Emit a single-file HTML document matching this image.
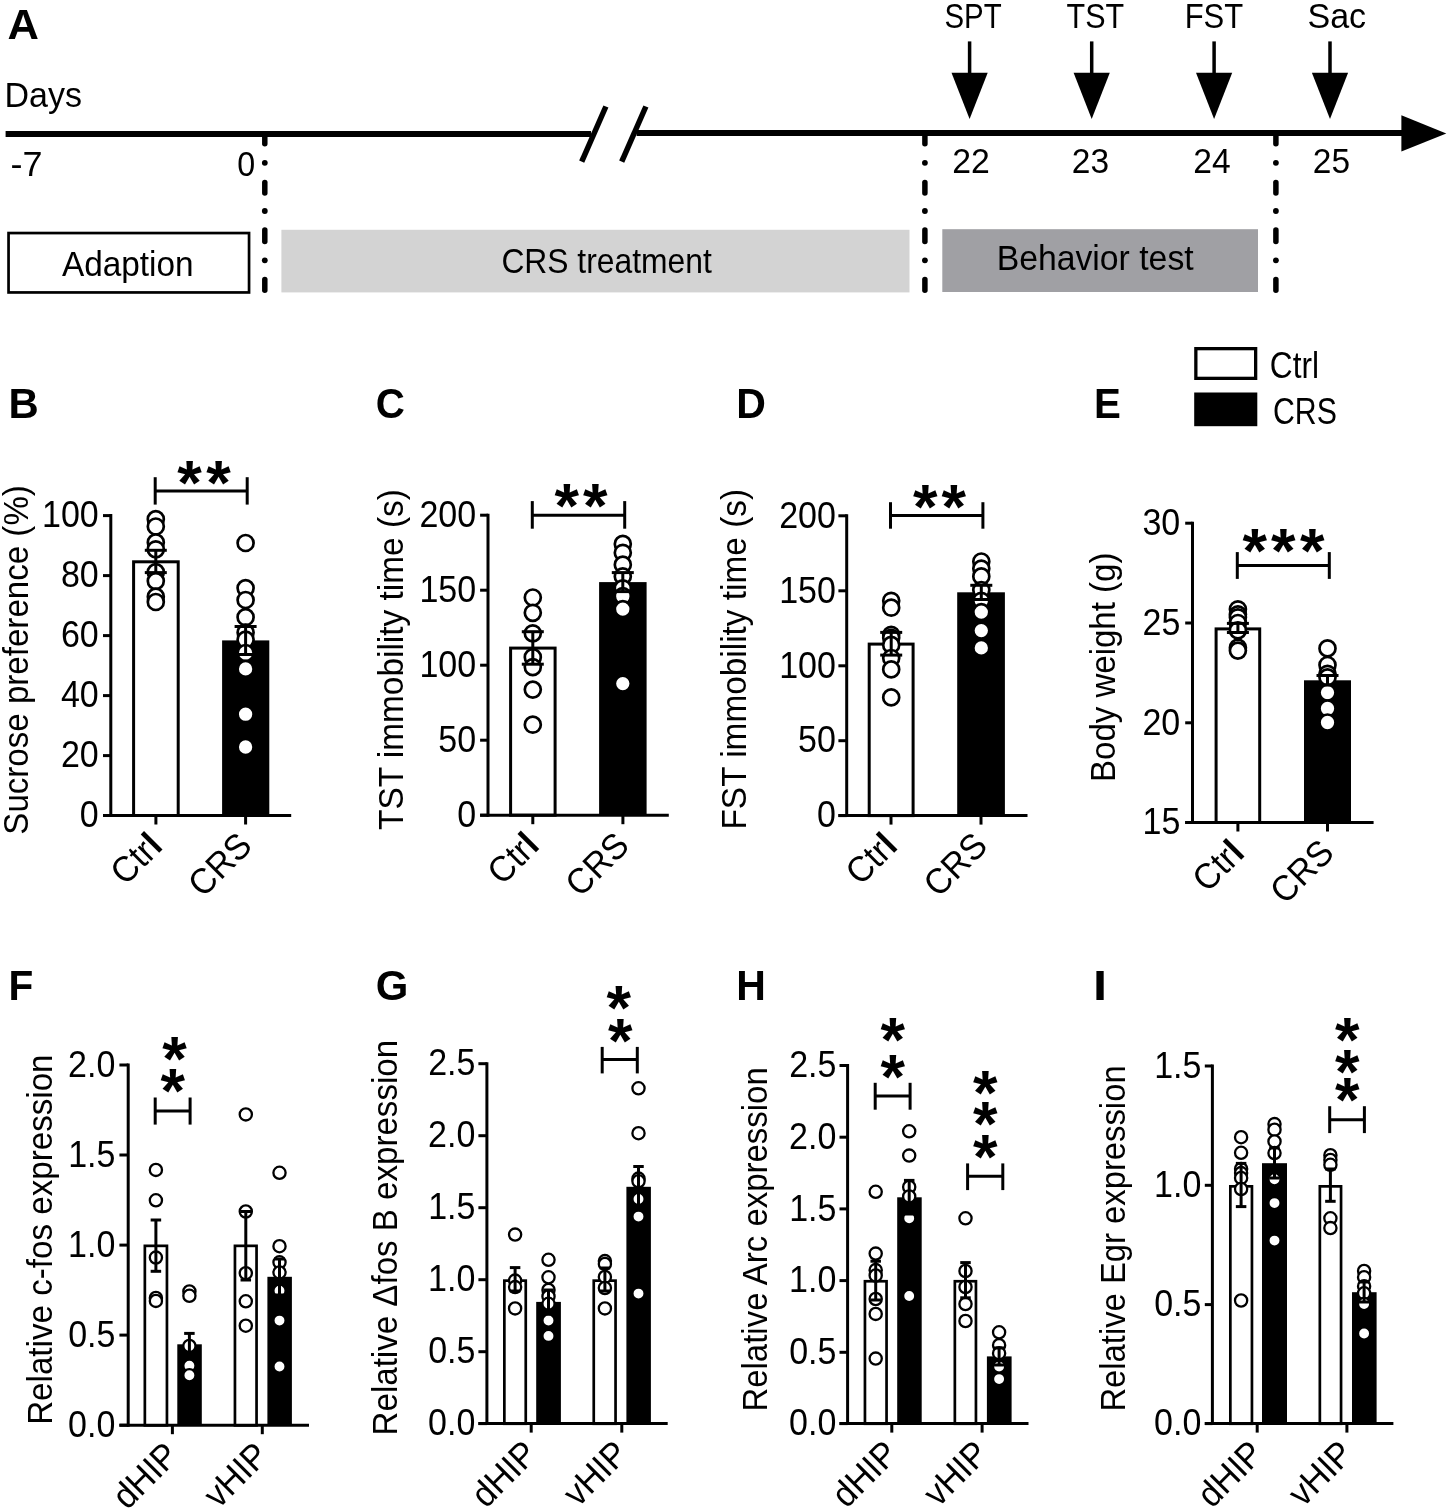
<!DOCTYPE html><html><head><meta charset="utf-8"><style>html,body{margin:0;padding:0;background:#fff;overflow:hidden}svg{display:block;will-change:transform} text{font-family:"Liberation Sans",sans-serif}</style></head><body>
<svg width="1450" height="1510" viewBox="0 0 1450 1510">
<rect width="1450" height="1510" fill="#fff"/>
<text x="7.62" y="38.90" font-size="43" font-weight="bold" fill="#000" textLength="31.43" lengthAdjust="spacingAndGlyphs">A</text>
<text x="4.41" y="106.50" font-size="35" fill="#000" textLength="77.52" lengthAdjust="spacingAndGlyphs">Days</text>
<line x1="5.60" y1="134.00" x2="591.00" y2="134.00" stroke="#000" stroke-width="6" stroke-linecap="butt"/>
<line x1="636.60" y1="133.00" x2="1405.00" y2="133.00" stroke="#000" stroke-width="6" stroke-linecap="butt"/>
<line x1="581.70" y1="161.70" x2="605.90" y2="106.50" stroke="#000" stroke-width="5.5" stroke-linecap="butt"/>
<line x1="621.70" y1="161.70" x2="645.90" y2="106.50" stroke="#000" stroke-width="5.5" stroke-linecap="butt"/>
<polygon points="1401.4,115.2 1446.3,133.5 1401.4,151.5" fill="#000"/>
<line x1="264.80" y1="133.80" x2="264.80" y2="143.80" stroke="#000" stroke-width="5.5" stroke-linecap="round"/>
<line x1="264.80" y1="182.50" x2="264.80" y2="193.00" stroke="#000" stroke-width="5.5" stroke-linecap="round"/>
<line x1="264.80" y1="230.10" x2="264.80" y2="241.50" stroke="#000" stroke-width="5.5" stroke-linecap="round"/>
<line x1="264.80" y1="279.50" x2="264.80" y2="290.30" stroke="#000" stroke-width="5.5" stroke-linecap="round"/>
<circle cx="264.80" cy="162.8" r="2.9" fill="#000"/>
<circle cx="264.80" cy="211" r="2.9" fill="#000"/>
<circle cx="264.80" cy="260.3" r="2.9" fill="#000"/>
<line x1="924.90" y1="133.80" x2="924.90" y2="143.80" stroke="#000" stroke-width="5.5" stroke-linecap="round"/>
<line x1="924.90" y1="182.50" x2="924.90" y2="193.00" stroke="#000" stroke-width="5.5" stroke-linecap="round"/>
<line x1="924.90" y1="230.10" x2="924.90" y2="241.50" stroke="#000" stroke-width="5.5" stroke-linecap="round"/>
<line x1="924.90" y1="279.50" x2="924.90" y2="290.30" stroke="#000" stroke-width="5.5" stroke-linecap="round"/>
<circle cx="924.90" cy="162.8" r="2.9" fill="#000"/>
<circle cx="924.90" cy="211" r="2.9" fill="#000"/>
<circle cx="924.90" cy="260.3" r="2.9" fill="#000"/>
<line x1="1275.90" y1="133.80" x2="1275.90" y2="143.80" stroke="#000" stroke-width="5.5" stroke-linecap="round"/>
<line x1="1275.90" y1="182.50" x2="1275.90" y2="193.00" stroke="#000" stroke-width="5.5" stroke-linecap="round"/>
<line x1="1275.90" y1="230.10" x2="1275.90" y2="241.50" stroke="#000" stroke-width="5.5" stroke-linecap="round"/>
<line x1="1275.90" y1="279.50" x2="1275.90" y2="290.30" stroke="#000" stroke-width="5.5" stroke-linecap="round"/>
<circle cx="1275.90" cy="162.8" r="2.9" fill="#000"/>
<circle cx="1275.90" cy="211" r="2.9" fill="#000"/>
<circle cx="1275.90" cy="260.3" r="2.9" fill="#000"/>
<text x="10.60" y="175.80" font-size="34.5" fill="#000" textLength="32.01" lengthAdjust="spacingAndGlyphs">-7</text>
<text x="237.34" y="175.80" font-size="34.5" fill="#000" textLength="17.92" lengthAdjust="spacingAndGlyphs">0</text>
<text x="952.30" y="173.40" font-size="34.8" fill="#000" textLength="37.60" lengthAdjust="spacingAndGlyphs">22</text>
<text x="1071.82" y="173.40" font-size="34.8" fill="#000" textLength="37.26" lengthAdjust="spacingAndGlyphs">23</text>
<text x="1193.31" y="173.40" font-size="34.8" fill="#000" textLength="37.37" lengthAdjust="spacingAndGlyphs">24</text>
<text x="1312.82" y="173.40" font-size="34.8" fill="#000" textLength="37.19" lengthAdjust="spacingAndGlyphs">25</text>
<text x="944.46" y="27.50" font-size="35" fill="#000" textLength="57.21" lengthAdjust="spacingAndGlyphs">SPT</text>
<text x="1066.62" y="27.50" font-size="35" fill="#000" textLength="57.58" lengthAdjust="spacingAndGlyphs">TST</text>
<text x="1184.66" y="27.50" font-size="35" fill="#000" textLength="58.55" lengthAdjust="spacingAndGlyphs">FST</text>
<text x="1307.45" y="27.50" font-size="35" fill="#000" textLength="58.64" lengthAdjust="spacingAndGlyphs">Sac</text>
<line x1="969.60" y1="41.40" x2="969.60" y2="75.00" stroke="#000" stroke-width="3.5" stroke-linecap="butt"/>
<polygon points="951.50,72.8 987.70,72.8 969.60,119" fill="#000"/>
<line x1="1091.70" y1="41.40" x2="1091.70" y2="75.00" stroke="#000" stroke-width="3.5" stroke-linecap="butt"/>
<polygon points="1073.60,72.8 1109.80,72.8 1091.70,119" fill="#000"/>
<line x1="1214.10" y1="41.40" x2="1214.10" y2="75.00" stroke="#000" stroke-width="3.5" stroke-linecap="butt"/>
<polygon points="1196.00,72.8 1232.20,72.8 1214.10,119" fill="#000"/>
<line x1="1330.00" y1="41.40" x2="1330.00" y2="75.00" stroke="#000" stroke-width="3.5" stroke-linecap="butt"/>
<polygon points="1311.90,72.8 1348.10,72.8 1330.00,119" fill="#000"/>
<rect x="8.55" y="233.05" width="240.50" height="59.40" fill="#fff" stroke="#000" stroke-width="2.7"/>
<text x="61.93" y="275.60" font-size="35" fill="#000" textLength="131.63" lengthAdjust="spacingAndGlyphs">Adaption</text>
<rect x="281.40" y="229.80" width="628.10" height="62.60" fill="#d3d3d3"/>
<text x="501.38" y="272.80" font-size="35" fill="#000" textLength="210.35" lengthAdjust="spacingAndGlyphs">CRS treatment</text>
<rect x="942.30" y="229.20" width="315.70" height="62.80" fill="#a0a0a4"/>
<text x="996.63" y="269.70" font-size="35.6" fill="#000" textLength="197.02" lengthAdjust="spacingAndGlyphs">Behavior test</text>
<rect x="133.60" y="561.80" width="44.60" height="253.70" fill="#fff" stroke="#000" stroke-width="3"/>
<rect x="222.10" y="640.40" width="47.20" height="175.10" fill="#000"/>
<circle cx="155.80" cy="519.20" r="8.00" fill="#fff" stroke="#000" stroke-width="2.7"/>
<circle cx="155.80" cy="526.50" r="8.00" fill="#fff" stroke="#000" stroke-width="2.7"/>
<circle cx="155.80" cy="542.40" r="8.00" fill="#fff" stroke="#000" stroke-width="2.7"/>
<circle cx="155.80" cy="549.30" r="8.00" fill="#fff" stroke="#000" stroke-width="2.7"/>
<circle cx="155.80" cy="572.20" r="8.00" fill="#fff" stroke="#000" stroke-width="2.7"/>
<circle cx="155.80" cy="581.10" r="8.00" fill="#fff" stroke="#000" stroke-width="2.7"/>
<circle cx="155.80" cy="596.70" r="8.00" fill="#fff" stroke="#000" stroke-width="2.7"/>
<circle cx="155.80" cy="602.00" r="8.00" fill="#fff" stroke="#000" stroke-width="2.7"/>
<circle cx="245.60" cy="543.00" r="8.00" fill="#fff" stroke="#000" stroke-width="2.7"/>
<circle cx="245.60" cy="588.10" r="8.00" fill="#fff" stroke="#000" stroke-width="2.7"/>
<circle cx="245.60" cy="600.00" r="8.00" fill="#fff" stroke="#000" stroke-width="2.7"/>
<circle cx="245.60" cy="617.20" r="8.00" fill="#fff" stroke="#000" stroke-width="2.7"/>
<circle cx="245.60" cy="632.50" r="8.00" fill="#fff" stroke="#000" stroke-width="2.7"/>
<circle cx="245.60" cy="639.70" r="8.00" fill="#fff" stroke="#000" stroke-width="2.7"/>
<circle cx="245.60" cy="653.00" r="8.00" fill="#fff" stroke="#000" stroke-width="2.7"/>
<circle cx="245.60" cy="668.90" r="8.00" fill="#fff" stroke="#000" stroke-width="2.7"/>
<circle cx="245.60" cy="714.20" r="8.00" fill="#fff" stroke="#000" stroke-width="2.7"/>
<circle cx="245.60" cy="747.00" r="8.00" fill="#fff" stroke="#000" stroke-width="2.7"/>
<line x1="155.80" y1="550.30" x2="155.80" y2="572.60" stroke="#000" stroke-width="3" stroke-linecap="butt"/>
<line x1="144.80" y1="550.30" x2="166.80" y2="550.30" stroke="#000" stroke-width="3" stroke-linecap="butt"/>
<line x1="144.80" y1="572.60" x2="166.80" y2="572.60" stroke="#000" stroke-width="3" stroke-linecap="butt"/>
<line x1="245.60" y1="626.50" x2="245.60" y2="654.50" stroke="#000" stroke-width="3" stroke-linecap="butt"/>
<line x1="234.60" y1="626.50" x2="256.60" y2="626.50" stroke="#000" stroke-width="3" stroke-linecap="butt"/>
<line x1="234.60" y1="654.50" x2="256.60" y2="654.50" stroke="#000" stroke-width="3" stroke-linecap="butt"/>
<line x1="110.80" y1="514.10" x2="110.80" y2="817.00" stroke="#000" stroke-width="3" stroke-linecap="butt"/>
<line x1="103.00" y1="815.50" x2="291.20" y2="815.50" stroke="#000" stroke-width="3" stroke-linecap="butt"/>
<line x1="103.00" y1="515.60" x2="110.80" y2="515.60" stroke="#000" stroke-width="3" stroke-linecap="butt"/>
<text x="42.00" y="527.30" font-size="36.4" fill="#000" textLength="56.73" lengthAdjust="spacingAndGlyphs">100</text>
<line x1="103.00" y1="575.60" x2="110.80" y2="575.60" stroke="#000" stroke-width="3" stroke-linecap="butt"/>
<text x="60.91" y="587.30" font-size="36.4" fill="#000" textLength="37.82" lengthAdjust="spacingAndGlyphs">80</text>
<line x1="103.00" y1="635.60" x2="110.80" y2="635.60" stroke="#000" stroke-width="3" stroke-linecap="butt"/>
<text x="60.91" y="647.30" font-size="36.4" fill="#000" textLength="37.82" lengthAdjust="spacingAndGlyphs">60</text>
<line x1="103.00" y1="695.60" x2="110.80" y2="695.60" stroke="#000" stroke-width="3" stroke-linecap="butt"/>
<text x="60.91" y="707.30" font-size="36.4" fill="#000" textLength="37.82" lengthAdjust="spacingAndGlyphs">40</text>
<line x1="103.00" y1="755.60" x2="110.80" y2="755.60" stroke="#000" stroke-width="3" stroke-linecap="butt"/>
<text x="60.91" y="767.30" font-size="36.4" fill="#000" textLength="37.82" lengthAdjust="spacingAndGlyphs">20</text>
<line x1="103.00" y1="815.50" x2="110.80" y2="815.50" stroke="#000" stroke-width="3" stroke-linecap="butt"/>
<text x="79.82" y="827.20" font-size="36.4" fill="#000" textLength="18.91" lengthAdjust="spacingAndGlyphs">0</text>
<line x1="155.90" y1="815.50" x2="155.90" y2="824.50" stroke="#000" stroke-width="3" stroke-linecap="butt"/>
<line x1="245.60" y1="815.50" x2="245.60" y2="824.50" stroke="#000" stroke-width="3" stroke-linecap="butt"/>
<line x1="155.20" y1="491.00" x2="247.20" y2="491.00" stroke="#000" stroke-width="3" stroke-linecap="butt"/>
<line x1="155.20" y1="477.20" x2="155.20" y2="504.60" stroke="#000" stroke-width="3" stroke-linecap="butt"/>
<line x1="247.20" y1="477.20" x2="247.20" y2="504.60" stroke="#000" stroke-width="3" stroke-linecap="butt"/>
<text x="177.18" y="503.53" font-size="63" font-weight="bold">*</text>
<text x="206.18" y="503.53" font-size="63" font-weight="bold">*</text>
<text x="8.40" y="417.80" font-size="43" font-weight="bold" fill="#000" textLength="30.20" lengthAdjust="spacingAndGlyphs">B</text>
<text transform="translate(28.20,833.20) rotate(-90)" x="-1.50" y="0" font-size="35.2" textLength="349.56" lengthAdjust="spacingAndGlyphs">Sucrose preference (%)</text>
<text transform="translate(164.10,847.70) rotate(-45)" x="0" y="0" font-size="36" text-anchor="end" textLength="54.77" lengthAdjust="spacingAndGlyphs">Ctr<tspan font-weight="bold">l</tspan></text>
<text transform="translate(253.80,847.70) rotate(-45)" x="0" y="0" font-size="36" text-anchor="end" textLength="71.79" lengthAdjust="spacingAndGlyphs">CRS</text>
<rect x="510.60" y="648.10" width="44.50" height="167.10" fill="#fff" stroke="#000" stroke-width="3"/>
<rect x="599.10" y="582.10" width="47.50" height="233.10" fill="#000"/>
<circle cx="532.80" cy="597.50" r="8.00" fill="#fff" stroke="#000" stroke-width="2.7"/>
<circle cx="532.80" cy="612.80" r="8.00" fill="#fff" stroke="#000" stroke-width="2.7"/>
<circle cx="532.80" cy="633.30" r="8.00" fill="#fff" stroke="#000" stroke-width="2.7"/>
<circle cx="532.80" cy="657.20" r="8.00" fill="#fff" stroke="#000" stroke-width="2.7"/>
<circle cx="532.80" cy="667.10" r="8.00" fill="#fff" stroke="#000" stroke-width="2.7"/>
<circle cx="532.80" cy="689.60" r="8.00" fill="#fff" stroke="#000" stroke-width="2.7"/>
<circle cx="532.80" cy="724.70" r="8.00" fill="#fff" stroke="#000" stroke-width="2.7"/>
<circle cx="622.80" cy="543.90" r="8.00" fill="#fff" stroke="#000" stroke-width="2.7"/>
<circle cx="622.80" cy="552.80" r="8.00" fill="#fff" stroke="#000" stroke-width="2.7"/>
<circle cx="622.80" cy="564.70" r="8.00" fill="#fff" stroke="#000" stroke-width="2.7"/>
<circle cx="622.80" cy="576.40" r="8.00" fill="#fff" stroke="#000" stroke-width="2.7"/>
<circle cx="622.80" cy="588.30" r="8.00" fill="#fff" stroke="#000" stroke-width="2.7"/>
<circle cx="622.80" cy="596.20" r="8.00" fill="#fff" stroke="#000" stroke-width="2.7"/>
<circle cx="622.80" cy="609.10" r="8.00" fill="#fff" stroke="#000" stroke-width="2.7"/>
<circle cx="622.80" cy="683.60" r="8.00" fill="#fff" stroke="#000" stroke-width="2.7"/>
<line x1="532.80" y1="631.70" x2="532.80" y2="664.20" stroke="#000" stroke-width="3" stroke-linecap="butt"/>
<line x1="521.80" y1="631.70" x2="543.80" y2="631.70" stroke="#000" stroke-width="3" stroke-linecap="butt"/>
<line x1="521.80" y1="664.20" x2="543.80" y2="664.20" stroke="#000" stroke-width="3" stroke-linecap="butt"/>
<line x1="622.80" y1="572.60" x2="622.80" y2="591.60" stroke="#000" stroke-width="3" stroke-linecap="butt"/>
<line x1="611.80" y1="572.60" x2="633.80" y2="572.60" stroke="#000" stroke-width="3" stroke-linecap="butt"/>
<line x1="611.80" y1="591.60" x2="633.80" y2="591.60" stroke="#000" stroke-width="3" stroke-linecap="butt"/>
<line x1="488.00" y1="513.70" x2="488.00" y2="816.70" stroke="#000" stroke-width="3" stroke-linecap="butt"/>
<line x1="480.10" y1="815.20" x2="668.80" y2="815.20" stroke="#000" stroke-width="3" stroke-linecap="butt"/>
<line x1="480.10" y1="515.20" x2="488.00" y2="515.20" stroke="#000" stroke-width="3" stroke-linecap="butt"/>
<text x="419.40" y="526.90" font-size="36.4" fill="#000" textLength="56.73" lengthAdjust="spacingAndGlyphs">200</text>
<line x1="480.10" y1="590.20" x2="488.00" y2="590.20" stroke="#000" stroke-width="3" stroke-linecap="butt"/>
<text x="419.40" y="601.90" font-size="36.4" fill="#000" textLength="56.73" lengthAdjust="spacingAndGlyphs">150</text>
<line x1="480.10" y1="665.20" x2="488.00" y2="665.20" stroke="#000" stroke-width="3" stroke-linecap="butt"/>
<text x="419.40" y="676.90" font-size="36.4" fill="#000" textLength="56.73" lengthAdjust="spacingAndGlyphs">100</text>
<line x1="480.10" y1="740.20" x2="488.00" y2="740.20" stroke="#000" stroke-width="3" stroke-linecap="butt"/>
<text x="438.31" y="751.90" font-size="36.4" fill="#000" textLength="37.82" lengthAdjust="spacingAndGlyphs">50</text>
<line x1="480.10" y1="815.20" x2="488.00" y2="815.20" stroke="#000" stroke-width="3" stroke-linecap="butt"/>
<text x="457.22" y="826.90" font-size="36.4" fill="#000" textLength="18.91" lengthAdjust="spacingAndGlyphs">0</text>
<line x1="532.80" y1="815.20" x2="532.80" y2="824.20" stroke="#000" stroke-width="3" stroke-linecap="butt"/>
<line x1="622.90" y1="815.20" x2="622.90" y2="824.20" stroke="#000" stroke-width="3" stroke-linecap="butt"/>
<line x1="532.30" y1="515.20" x2="624.70" y2="515.20" stroke="#000" stroke-width="3" stroke-linecap="butt"/>
<line x1="532.30" y1="501.10" x2="532.30" y2="528.70" stroke="#000" stroke-width="3" stroke-linecap="butt"/>
<line x1="624.70" y1="501.10" x2="624.70" y2="528.70" stroke="#000" stroke-width="3" stroke-linecap="butt"/>
<text x="554.38" y="527.33" font-size="63" font-weight="bold">*</text>
<text x="582.98" y="527.33" font-size="63" font-weight="bold">*</text>
<text x="375.84" y="418.20" font-size="43" font-weight="bold" fill="#000" textLength="29.16" lengthAdjust="spacingAndGlyphs">C</text>
<text transform="translate(402.50,829.20) rotate(-90)" x="-0.75" y="0" font-size="35.2" textLength="340.82" lengthAdjust="spacingAndGlyphs">TST immobility time (s)</text>
<text transform="translate(541.00,847.40) rotate(-45)" x="0" y="0" font-size="36" text-anchor="end" textLength="54.77" lengthAdjust="spacingAndGlyphs">Ctr<tspan font-weight="bold">l</tspan></text>
<text transform="translate(631.10,847.40) rotate(-45)" x="0" y="0" font-size="36" text-anchor="end" textLength="71.79" lengthAdjust="spacingAndGlyphs">CRS</text>
<rect x="869.20" y="644.10" width="43.90" height="171.50" fill="#fff" stroke="#000" stroke-width="3"/>
<rect x="957.20" y="592.30" width="47.70" height="223.30" fill="#000"/>
<circle cx="891.20" cy="600.80" r="8.00" fill="#fff" stroke="#000" stroke-width="2.7"/>
<circle cx="891.20" cy="607.70" r="8.00" fill="#fff" stroke="#000" stroke-width="2.7"/>
<circle cx="891.20" cy="634.80" r="8.00" fill="#fff" stroke="#000" stroke-width="2.7"/>
<circle cx="891.20" cy="637.80" r="8.00" fill="#fff" stroke="#000" stroke-width="2.7"/>
<circle cx="891.20" cy="644.90" r="8.00" fill="#fff" stroke="#000" stroke-width="2.7"/>
<circle cx="891.20" cy="658.00" r="8.00" fill="#fff" stroke="#000" stroke-width="2.7"/>
<circle cx="891.20" cy="669.40" r="8.00" fill="#fff" stroke="#000" stroke-width="2.7"/>
<circle cx="891.20" cy="697.40" r="8.00" fill="#fff" stroke="#000" stroke-width="2.7"/>
<circle cx="981.30" cy="561.50" r="8.00" fill="#fff" stroke="#000" stroke-width="2.7"/>
<circle cx="981.30" cy="568.60" r="8.00" fill="#fff" stroke="#000" stroke-width="2.7"/>
<circle cx="981.30" cy="576.40" r="8.00" fill="#fff" stroke="#000" stroke-width="2.7"/>
<circle cx="981.30" cy="590.10" r="8.00" fill="#fff" stroke="#000" stroke-width="2.7"/>
<circle cx="981.30" cy="600.80" r="8.00" fill="#fff" stroke="#000" stroke-width="2.7"/>
<circle cx="981.30" cy="612.10" r="8.00" fill="#fff" stroke="#000" stroke-width="2.7"/>
<circle cx="981.30" cy="630.60" r="8.00" fill="#fff" stroke="#000" stroke-width="2.7"/>
<circle cx="981.30" cy="647.90" r="8.00" fill="#fff" stroke="#000" stroke-width="2.7"/>
<line x1="891.20" y1="632.40" x2="891.20" y2="655.10" stroke="#000" stroke-width="3" stroke-linecap="butt"/>
<line x1="880.20" y1="632.40" x2="902.20" y2="632.40" stroke="#000" stroke-width="3" stroke-linecap="butt"/>
<line x1="880.20" y1="655.10" x2="902.20" y2="655.10" stroke="#000" stroke-width="3" stroke-linecap="butt"/>
<line x1="981.30" y1="585.30" x2="981.30" y2="599.50" stroke="#000" stroke-width="3" stroke-linecap="butt"/>
<line x1="970.30" y1="585.30" x2="992.30" y2="585.30" stroke="#000" stroke-width="3" stroke-linecap="butt"/>
<line x1="970.30" y1="599.50" x2="992.30" y2="599.50" stroke="#000" stroke-width="3" stroke-linecap="butt"/>
<line x1="846.70" y1="514.30" x2="846.70" y2="817.10" stroke="#000" stroke-width="3" stroke-linecap="butt"/>
<line x1="838.40" y1="815.60" x2="1027.50" y2="815.60" stroke="#000" stroke-width="3" stroke-linecap="butt"/>
<line x1="838.40" y1="515.80" x2="846.70" y2="515.80" stroke="#000" stroke-width="3" stroke-linecap="butt"/>
<text x="779.20" y="527.50" font-size="36.4" fill="#000" textLength="56.73" lengthAdjust="spacingAndGlyphs">200</text>
<line x1="838.40" y1="590.80" x2="846.70" y2="590.80" stroke="#000" stroke-width="3" stroke-linecap="butt"/>
<text x="779.20" y="602.50" font-size="36.4" fill="#000" textLength="56.73" lengthAdjust="spacingAndGlyphs">150</text>
<line x1="838.40" y1="665.80" x2="846.70" y2="665.80" stroke="#000" stroke-width="3" stroke-linecap="butt"/>
<text x="779.20" y="677.50" font-size="36.4" fill="#000" textLength="56.73" lengthAdjust="spacingAndGlyphs">100</text>
<line x1="838.40" y1="740.70" x2="846.70" y2="740.70" stroke="#000" stroke-width="3" stroke-linecap="butt"/>
<text x="798.11" y="752.40" font-size="36.4" fill="#000" textLength="37.82" lengthAdjust="spacingAndGlyphs">50</text>
<line x1="838.40" y1="815.60" x2="846.70" y2="815.60" stroke="#000" stroke-width="3" stroke-linecap="butt"/>
<text x="817.02" y="827.30" font-size="36.4" fill="#000" textLength="18.91" lengthAdjust="spacingAndGlyphs">0</text>
<line x1="891.00" y1="815.60" x2="891.00" y2="824.60" stroke="#000" stroke-width="3" stroke-linecap="butt"/>
<line x1="981.00" y1="815.60" x2="981.00" y2="824.60" stroke="#000" stroke-width="3" stroke-linecap="butt"/>
<line x1="890.50" y1="515.60" x2="982.90" y2="515.60" stroke="#000" stroke-width="3" stroke-linecap="butt"/>
<line x1="890.50" y1="502.20" x2="890.50" y2="528.70" stroke="#000" stroke-width="3" stroke-linecap="butt"/>
<line x1="982.90" y1="502.20" x2="982.90" y2="528.70" stroke="#000" stroke-width="3" stroke-linecap="butt"/>
<text x="912.98" y="527.93" font-size="63" font-weight="bold">*</text>
<text x="941.38" y="527.93" font-size="63" font-weight="bold">*</text>
<text x="736.15" y="417.80" font-size="43" font-weight="bold" fill="#000" textLength="29.67" lengthAdjust="spacingAndGlyphs">D</text>
<text transform="translate(745.90,826.80) rotate(-90)" x="-2.73" y="0" font-size="35.2" textLength="340.60" lengthAdjust="spacingAndGlyphs">FST immobility time (s)</text>
<text transform="translate(899.20,847.80) rotate(-45)" x="0" y="0" font-size="36" text-anchor="end" textLength="54.77" lengthAdjust="spacingAndGlyphs">Ctr<tspan font-weight="bold">l</tspan></text>
<text transform="translate(989.20,847.80) rotate(-45)" x="0" y="0" font-size="36" text-anchor="end" textLength="71.79" lengthAdjust="spacingAndGlyphs">CRS</text>
<rect x="1216.10" y="628.90" width="43.60" height="193.60" fill="#fff" stroke="#000" stroke-width="3"/>
<rect x="1304.00" y="680.30" width="47.00" height="142.20" fill="#000"/>
<circle cx="1237.90" cy="609.30" r="8.00" fill="#fff" stroke="#000" stroke-width="2.7"/>
<circle cx="1237.90" cy="614.40" r="8.00" fill="#fff" stroke="#000" stroke-width="2.7"/>
<circle cx="1237.90" cy="617.30" r="8.00" fill="#fff" stroke="#000" stroke-width="2.7"/>
<circle cx="1237.90" cy="623.00" r="8.00" fill="#fff" stroke="#000" stroke-width="2.7"/>
<circle cx="1237.90" cy="630.30" r="8.00" fill="#fff" stroke="#000" stroke-width="2.7"/>
<circle cx="1237.90" cy="647.70" r="8.00" fill="#fff" stroke="#000" stroke-width="2.7"/>
<circle cx="1237.90" cy="650.60" r="8.00" fill="#fff" stroke="#000" stroke-width="2.7"/>
<circle cx="1327.50" cy="648.40" r="8.00" fill="#fff" stroke="#000" stroke-width="2.7"/>
<circle cx="1327.50" cy="665.00" r="8.00" fill="#fff" stroke="#000" stroke-width="2.7"/>
<circle cx="1327.50" cy="673.80" r="8.00" fill="#fff" stroke="#000" stroke-width="2.7"/>
<circle cx="1327.50" cy="677.40" r="8.00" fill="#fff" stroke="#000" stroke-width="2.7"/>
<circle cx="1327.50" cy="692.60" r="8.00" fill="#fff" stroke="#000" stroke-width="2.7"/>
<circle cx="1327.50" cy="708.50" r="8.00" fill="#fff" stroke="#000" stroke-width="2.7"/>
<circle cx="1327.50" cy="722.50" r="8.00" fill="#fff" stroke="#000" stroke-width="2.7"/>
<line x1="1237.90" y1="623.40" x2="1237.90" y2="632.50" stroke="#000" stroke-width="3" stroke-linecap="butt"/>
<line x1="1226.90" y1="623.40" x2="1248.90" y2="623.40" stroke="#000" stroke-width="3" stroke-linecap="butt"/>
<line x1="1226.90" y1="632.50" x2="1248.90" y2="632.50" stroke="#000" stroke-width="3" stroke-linecap="butt"/>
<line x1="1327.50" y1="675.50" x2="1327.50" y2="685.00" stroke="#000" stroke-width="3" stroke-linecap="butt"/>
<line x1="1316.50" y1="675.50" x2="1338.50" y2="675.50" stroke="#000" stroke-width="3" stroke-linecap="butt"/>
<line x1="1316.50" y1="685.00" x2="1338.50" y2="685.00" stroke="#000" stroke-width="3" stroke-linecap="butt"/>
<line x1="1192.50" y1="521.70" x2="1192.50" y2="824.00" stroke="#000" stroke-width="3" stroke-linecap="butt"/>
<line x1="1185.20" y1="822.50" x2="1373.60" y2="822.50" stroke="#000" stroke-width="3" stroke-linecap="butt"/>
<line x1="1185.20" y1="523.20" x2="1192.50" y2="523.20" stroke="#000" stroke-width="3" stroke-linecap="butt"/>
<text x="1142.41" y="534.90" font-size="36.4" fill="#000" textLength="37.82" lengthAdjust="spacingAndGlyphs">30</text>
<line x1="1185.20" y1="623.00" x2="1192.50" y2="623.00" stroke="#000" stroke-width="3" stroke-linecap="butt"/>
<text x="1142.51" y="634.70" font-size="36.4" fill="#000" textLength="37.82" lengthAdjust="spacingAndGlyphs">25</text>
<line x1="1185.20" y1="722.80" x2="1192.50" y2="722.80" stroke="#000" stroke-width="3" stroke-linecap="butt"/>
<text x="1142.41" y="734.50" font-size="36.4" fill="#000" textLength="37.82" lengthAdjust="spacingAndGlyphs">20</text>
<line x1="1185.20" y1="822.50" x2="1192.50" y2="822.50" stroke="#000" stroke-width="3" stroke-linecap="butt"/>
<text x="1142.51" y="834.20" font-size="36.4" fill="#000" textLength="37.82" lengthAdjust="spacingAndGlyphs">15</text>
<line x1="1237.90" y1="822.50" x2="1237.90" y2="831.50" stroke="#000" stroke-width="3" stroke-linecap="butt"/>
<line x1="1327.50" y1="822.50" x2="1327.50" y2="831.50" stroke="#000" stroke-width="3" stroke-linecap="butt"/>
<line x1="1237.30" y1="565.50" x2="1329.30" y2="565.50" stroke="#000" stroke-width="3" stroke-linecap="butt"/>
<line x1="1237.30" y1="552.10" x2="1237.30" y2="578.90" stroke="#000" stroke-width="3" stroke-linecap="butt"/>
<line x1="1329.30" y1="552.10" x2="1329.30" y2="578.90" stroke="#000" stroke-width="3" stroke-linecap="butt"/>
<text x="1242.58" y="571.63" font-size="63" font-weight="bold">*</text>
<text x="1271.08" y="571.63" font-size="63" font-weight="bold">*</text>
<text x="1299.88" y="571.63" font-size="63" font-weight="bold">*</text>
<text x="1093.91" y="417.80" font-size="43" font-weight="bold" fill="#000" textLength="26.87" lengthAdjust="spacingAndGlyphs">E</text>
<text transform="translate(1115.20,779.30) rotate(-90)" x="-2.71" y="0" font-size="35.2" textLength="229.46" lengthAdjust="spacingAndGlyphs">Body weight (g)</text>
<text transform="translate(1246.10,854.70) rotate(-45)" x="0" y="0" font-size="36" text-anchor="end" textLength="54.77" lengthAdjust="spacingAndGlyphs">Ctr<tspan font-weight="bold">l</tspan></text>
<text transform="translate(1335.70,854.70) rotate(-45)" x="0" y="0" font-size="36" text-anchor="end" textLength="71.79" lengthAdjust="spacingAndGlyphs">CRS</text>
<rect x="144.85" y="1245.85" width="22.10" height="179.50" fill="#fff" stroke="#000" stroke-width="2.7"/>
<rect x="177.30" y="1344.30" width="24.50" height="80.90" fill="#000"/>
<rect x="234.95" y="1245.85" width="21.60" height="179.50" fill="#fff" stroke="#000" stroke-width="2.7"/>
<rect x="267.40" y="1276.80" width="24.50" height="148.40" fill="#000"/>
<circle cx="155.90" cy="1169.90" r="6.10" fill="#fff" stroke="#000" stroke-width="2.3"/>
<circle cx="155.90" cy="1200.30" r="6.10" fill="#fff" stroke="#000" stroke-width="2.3"/>
<circle cx="155.90" cy="1257.60" r="6.10" fill="#fff" stroke="#000" stroke-width="2.3"/>
<circle cx="155.90" cy="1298.00" r="6.10" fill="#fff" stroke="#000" stroke-width="2.3"/>
<circle cx="155.90" cy="1300.90" r="6.10" fill="#fff" stroke="#000" stroke-width="2.3"/>
<circle cx="189.40" cy="1291.40" r="6.10" fill="#fff" stroke="#000" stroke-width="2.3"/>
<circle cx="189.40" cy="1295.80" r="6.10" fill="#fff" stroke="#000" stroke-width="2.3"/>
<circle cx="189.40" cy="1346.00" r="6.10" fill="#fff" stroke="#000" stroke-width="2.3"/>
<circle cx="189.40" cy="1365.70" r="6.10" fill="#fff" stroke="#000" stroke-width="2.3"/>
<circle cx="189.40" cy="1375.20" r="6.10" fill="#fff" stroke="#000" stroke-width="2.3"/>
<circle cx="245.80" cy="1114.40" r="6.10" fill="#fff" stroke="#000" stroke-width="2.3"/>
<circle cx="245.80" cy="1211.50" r="6.10" fill="#fff" stroke="#000" stroke-width="2.3"/>
<circle cx="245.80" cy="1273.20" r="6.10" fill="#fff" stroke="#000" stroke-width="2.3"/>
<circle cx="245.80" cy="1301.30" r="6.10" fill="#fff" stroke="#000" stroke-width="2.3"/>
<circle cx="245.80" cy="1325.70" r="6.10" fill="#fff" stroke="#000" stroke-width="2.3"/>
<circle cx="279.50" cy="1172.80" r="6.10" fill="#fff" stroke="#000" stroke-width="2.3"/>
<circle cx="279.50" cy="1246.20" r="6.10" fill="#fff" stroke="#000" stroke-width="2.3"/>
<circle cx="279.50" cy="1262.30" r="6.10" fill="#fff" stroke="#000" stroke-width="2.3"/>
<circle cx="279.50" cy="1272.50" r="6.10" fill="#fff" stroke="#000" stroke-width="2.3"/>
<circle cx="279.50" cy="1290.70" r="6.10" fill="#fff" stroke="#000" stroke-width="2.3"/>
<circle cx="279.50" cy="1320.60" r="6.10" fill="#fff" stroke="#000" stroke-width="2.3"/>
<circle cx="279.50" cy="1366.50" r="6.10" fill="#fff" stroke="#000" stroke-width="2.3"/>
<line x1="155.90" y1="1220.00" x2="155.90" y2="1271.30" stroke="#000" stroke-width="3" stroke-linecap="butt"/>
<line x1="150.65" y1="1220.00" x2="161.15" y2="1220.00" stroke="#000" stroke-width="3" stroke-linecap="butt"/>
<line x1="150.65" y1="1271.30" x2="161.15" y2="1271.30" stroke="#000" stroke-width="3" stroke-linecap="butt"/>
<line x1="189.40" y1="1333.40" x2="189.40" y2="1355.00" stroke="#000" stroke-width="3" stroke-linecap="butt"/>
<line x1="184.15" y1="1333.40" x2="194.65" y2="1333.40" stroke="#000" stroke-width="3" stroke-linecap="butt"/>
<line x1="184.15" y1="1355.00" x2="194.65" y2="1355.00" stroke="#000" stroke-width="3" stroke-linecap="butt"/>
<line x1="245.80" y1="1211.50" x2="245.80" y2="1280.00" stroke="#000" stroke-width="3" stroke-linecap="butt"/>
<line x1="240.55" y1="1211.50" x2="251.05" y2="1211.50" stroke="#000" stroke-width="3" stroke-linecap="butt"/>
<line x1="240.55" y1="1280.00" x2="251.05" y2="1280.00" stroke="#000" stroke-width="3" stroke-linecap="butt"/>
<line x1="279.50" y1="1259.00" x2="279.50" y2="1295.00" stroke="#000" stroke-width="3" stroke-linecap="butt"/>
<line x1="274.25" y1="1259.00" x2="284.75" y2="1259.00" stroke="#000" stroke-width="3" stroke-linecap="butt"/>
<line x1="274.25" y1="1295.00" x2="284.75" y2="1295.00" stroke="#000" stroke-width="3" stroke-linecap="butt"/>
<line x1="128.20" y1="1063.50" x2="128.20" y2="1426.70" stroke="#000" stroke-width="3" stroke-linecap="butt"/>
<line x1="119.40" y1="1425.20" x2="309.00" y2="1425.20" stroke="#000" stroke-width="3" stroke-linecap="butt"/>
<line x1="119.40" y1="1065.00" x2="128.20" y2="1065.00" stroke="#000" stroke-width="3" stroke-linecap="butt"/>
<text x="68.06" y="1076.70" font-size="36.4" fill="#000" textLength="47.26" lengthAdjust="spacingAndGlyphs">2.0</text>
<line x1="119.40" y1="1155.00" x2="128.20" y2="1155.00" stroke="#000" stroke-width="3" stroke-linecap="butt"/>
<text x="68.16" y="1166.70" font-size="36.4" fill="#000" textLength="47.26" lengthAdjust="spacingAndGlyphs">1.5</text>
<line x1="119.40" y1="1245.10" x2="128.20" y2="1245.10" stroke="#000" stroke-width="3" stroke-linecap="butt"/>
<text x="68.06" y="1256.80" font-size="36.4" fill="#000" textLength="47.26" lengthAdjust="spacingAndGlyphs">1.0</text>
<line x1="119.40" y1="1335.10" x2="128.20" y2="1335.10" stroke="#000" stroke-width="3" stroke-linecap="butt"/>
<text x="68.16" y="1346.80" font-size="36.4" fill="#000" textLength="47.26" lengthAdjust="spacingAndGlyphs">0.5</text>
<line x1="119.40" y1="1425.20" x2="128.20" y2="1425.20" stroke="#000" stroke-width="3" stroke-linecap="butt"/>
<text x="68.06" y="1436.90" font-size="36.4" fill="#000" textLength="47.26" lengthAdjust="spacingAndGlyphs">0.0</text>
<line x1="172.40" y1="1425.20" x2="172.40" y2="1434.20" stroke="#000" stroke-width="3" stroke-linecap="butt"/>
<line x1="262.30" y1="1425.20" x2="262.30" y2="1434.20" stroke="#000" stroke-width="3" stroke-linecap="butt"/>
<line x1="155.20" y1="1111.00" x2="190.10" y2="1111.00" stroke="#000" stroke-width="3" stroke-linecap="butt"/>
<line x1="155.20" y1="1097.50" x2="155.20" y2="1124.60" stroke="#000" stroke-width="3" stroke-linecap="butt"/>
<line x1="190.10" y1="1097.50" x2="190.10" y2="1124.60" stroke="#000" stroke-width="3" stroke-linecap="butt"/>
<text x="162.18" y="1079.93" font-size="63" font-weight="bold">*</text>
<text x="160.58" y="1112.33" font-size="63" font-weight="bold">*</text>
<text x="8.58" y="1000.00" font-size="43" font-weight="bold" fill="#000" textLength="24.80" lengthAdjust="spacingAndGlyphs">F</text>
<text transform="translate(51.50,1422.10) rotate(-90)" x="-2.72" y="0" font-size="35.2" textLength="370.37" lengthAdjust="spacingAndGlyphs">Relative c-fos expression</text>
<text transform="translate(180.60,1457.40) rotate(-45)" x="0" y="0" font-size="36" text-anchor="end" textLength="75.59" lengthAdjust="spacingAndGlyphs">dHIP</text>
<text transform="translate(270.50,1457.40) rotate(-45)" x="0" y="0" font-size="36" text-anchor="end" textLength="73.68" lengthAdjust="spacingAndGlyphs">vHIP</text>
<rect x="504.35" y="1280.65" width="21.40" height="143.10" fill="#fff" stroke="#000" stroke-width="2.7"/>
<rect x="536.20" y="1301.90" width="24.70" height="121.70" fill="#000"/>
<rect x="593.75" y="1280.65" width="21.80" height="143.10" fill="#fff" stroke="#000" stroke-width="2.7"/>
<rect x="626.40" y="1186.80" width="24.50" height="236.80" fill="#000"/>
<circle cx="515.10" cy="1234.60" r="6.10" fill="#fff" stroke="#000" stroke-width="2.3"/>
<circle cx="515.10" cy="1280.60" r="6.10" fill="#fff" stroke="#000" stroke-width="2.3"/>
<circle cx="515.10" cy="1287.10" r="6.10" fill="#fff" stroke="#000" stroke-width="2.3"/>
<circle cx="515.10" cy="1308.40" r="6.10" fill="#fff" stroke="#000" stroke-width="2.3"/>
<circle cx="548.50" cy="1259.80" r="6.10" fill="#fff" stroke="#000" stroke-width="2.3"/>
<circle cx="548.50" cy="1277.30" r="6.10" fill="#fff" stroke="#000" stroke-width="2.3"/>
<circle cx="548.50" cy="1289.90" r="6.10" fill="#fff" stroke="#000" stroke-width="2.3"/>
<circle cx="548.50" cy="1296.40" r="6.10" fill="#fff" stroke="#000" stroke-width="2.3"/>
<circle cx="548.50" cy="1303.80" r="6.10" fill="#fff" stroke="#000" stroke-width="2.3"/>
<circle cx="548.50" cy="1320.50" r="6.10" fill="#fff" stroke="#000" stroke-width="2.3"/>
<circle cx="548.50" cy="1335.90" r="6.10" fill="#fff" stroke="#000" stroke-width="2.3"/>
<circle cx="604.90" cy="1261.10" r="6.10" fill="#fff" stroke="#000" stroke-width="2.3"/>
<circle cx="604.90" cy="1263.90" r="6.10" fill="#fff" stroke="#000" stroke-width="2.3"/>
<circle cx="604.90" cy="1276.90" r="6.10" fill="#fff" stroke="#000" stroke-width="2.3"/>
<circle cx="604.90" cy="1288.00" r="6.10" fill="#fff" stroke="#000" stroke-width="2.3"/>
<circle cx="604.90" cy="1308.40" r="6.10" fill="#fff" stroke="#000" stroke-width="2.3"/>
<circle cx="638.50" cy="1088.30" r="6.10" fill="#fff" stroke="#000" stroke-width="2.3"/>
<circle cx="638.50" cy="1133.20" r="6.10" fill="#fff" stroke="#000" stroke-width="2.3"/>
<circle cx="638.50" cy="1178.60" r="6.10" fill="#fff" stroke="#000" stroke-width="2.3"/>
<circle cx="638.50" cy="1181.30" r="6.10" fill="#fff" stroke="#000" stroke-width="2.3"/>
<circle cx="638.50" cy="1199.00" r="6.10" fill="#fff" stroke="#000" stroke-width="2.3"/>
<circle cx="638.50" cy="1216.60" r="6.10" fill="#fff" stroke="#000" stroke-width="2.3"/>
<circle cx="638.50" cy="1293.60" r="6.10" fill="#fff" stroke="#000" stroke-width="2.3"/>
<line x1="515.10" y1="1267.60" x2="515.10" y2="1291.00" stroke="#000" stroke-width="3" stroke-linecap="butt"/>
<line x1="509.85" y1="1267.60" x2="520.35" y2="1267.60" stroke="#000" stroke-width="3" stroke-linecap="butt"/>
<line x1="509.85" y1="1291.00" x2="520.35" y2="1291.00" stroke="#000" stroke-width="3" stroke-linecap="butt"/>
<line x1="548.50" y1="1290.00" x2="548.50" y2="1314.00" stroke="#000" stroke-width="3" stroke-linecap="butt"/>
<line x1="543.25" y1="1290.00" x2="553.75" y2="1290.00" stroke="#000" stroke-width="3" stroke-linecap="butt"/>
<line x1="543.25" y1="1314.00" x2="553.75" y2="1314.00" stroke="#000" stroke-width="3" stroke-linecap="butt"/>
<line x1="604.90" y1="1268.00" x2="604.90" y2="1291.00" stroke="#000" stroke-width="3" stroke-linecap="butt"/>
<line x1="599.65" y1="1268.00" x2="610.15" y2="1268.00" stroke="#000" stroke-width="3" stroke-linecap="butt"/>
<line x1="599.65" y1="1291.00" x2="610.15" y2="1291.00" stroke="#000" stroke-width="3" stroke-linecap="butt"/>
<line x1="638.50" y1="1166.50" x2="638.50" y2="1207.00" stroke="#000" stroke-width="3" stroke-linecap="butt"/>
<line x1="633.25" y1="1166.50" x2="643.75" y2="1166.50" stroke="#000" stroke-width="3" stroke-linecap="butt"/>
<line x1="633.25" y1="1207.00" x2="643.75" y2="1207.00" stroke="#000" stroke-width="3" stroke-linecap="butt"/>
<line x1="486.90" y1="1062.20" x2="486.90" y2="1425.10" stroke="#000" stroke-width="3" stroke-linecap="butt"/>
<line x1="478.40" y1="1423.60" x2="667.70" y2="1423.60" stroke="#000" stroke-width="3" stroke-linecap="butt"/>
<line x1="478.40" y1="1063.70" x2="486.90" y2="1063.70" stroke="#000" stroke-width="3" stroke-linecap="butt"/>
<text x="428.16" y="1075.40" font-size="36.4" fill="#000" textLength="47.26" lengthAdjust="spacingAndGlyphs">2.5</text>
<line x1="478.40" y1="1135.70" x2="486.90" y2="1135.70" stroke="#000" stroke-width="3" stroke-linecap="butt"/>
<text x="428.06" y="1147.40" font-size="36.4" fill="#000" textLength="47.26" lengthAdjust="spacingAndGlyphs">2.0</text>
<line x1="478.40" y1="1207.70" x2="486.90" y2="1207.70" stroke="#000" stroke-width="3" stroke-linecap="butt"/>
<text x="428.16" y="1219.40" font-size="36.4" fill="#000" textLength="47.26" lengthAdjust="spacingAndGlyphs">1.5</text>
<line x1="478.40" y1="1279.70" x2="486.90" y2="1279.70" stroke="#000" stroke-width="3" stroke-linecap="butt"/>
<text x="428.06" y="1291.40" font-size="36.4" fill="#000" textLength="47.26" lengthAdjust="spacingAndGlyphs">1.0</text>
<line x1="478.40" y1="1351.70" x2="486.90" y2="1351.70" stroke="#000" stroke-width="3" stroke-linecap="butt"/>
<text x="428.16" y="1363.40" font-size="36.4" fill="#000" textLength="47.26" lengthAdjust="spacingAndGlyphs">0.5</text>
<line x1="478.40" y1="1423.60" x2="486.90" y2="1423.60" stroke="#000" stroke-width="3" stroke-linecap="butt"/>
<text x="428.06" y="1435.30" font-size="36.4" fill="#000" textLength="47.26" lengthAdjust="spacingAndGlyphs">0.0</text>
<line x1="531.20" y1="1423.60" x2="531.20" y2="1432.60" stroke="#000" stroke-width="3" stroke-linecap="butt"/>
<line x1="621.80" y1="1423.60" x2="621.80" y2="1432.60" stroke="#000" stroke-width="3" stroke-linecap="butt"/>
<line x1="602.20" y1="1059.40" x2="637.30" y2="1059.40" stroke="#000" stroke-width="3" stroke-linecap="butt"/>
<line x1="602.20" y1="1046.90" x2="602.20" y2="1073.40" stroke="#000" stroke-width="3" stroke-linecap="butt"/>
<line x1="637.30" y1="1046.90" x2="637.30" y2="1073.40" stroke="#000" stroke-width="3" stroke-linecap="butt"/>
<text x="606.58" y="1029.23" font-size="63" font-weight="bold">*</text>
<text x="607.98" y="1061.53" font-size="63" font-weight="bold">*</text>
<text x="375.78" y="1000.40" font-size="43" font-weight="bold" fill="#000" textLength="32.62" lengthAdjust="spacingAndGlyphs">G</text>
<text transform="translate(397.00,1432.70) rotate(-90)" x="-2.72" y="0" font-size="35.2" textLength="395.56" lengthAdjust="spacingAndGlyphs">Relative Δfos B expression</text>
<text transform="translate(539.40,1455.80) rotate(-45)" x="0" y="0" font-size="36" text-anchor="end" textLength="75.59" lengthAdjust="spacingAndGlyphs">dHIP</text>
<text transform="translate(630.00,1455.80) rotate(-45)" x="0" y="0" font-size="36" text-anchor="end" textLength="73.68" lengthAdjust="spacingAndGlyphs">vHIP</text>
<rect x="864.95" y="1281.25" width="21.60" height="142.50" fill="#fff" stroke="#000" stroke-width="2.7"/>
<rect x="897.20" y="1197.30" width="24.50" height="226.30" fill="#000"/>
<rect x="954.85" y="1281.25" width="21.10" height="142.50" fill="#fff" stroke="#000" stroke-width="2.7"/>
<rect x="986.90" y="1356.40" width="24.70" height="67.20" fill="#000"/>
<circle cx="875.70" cy="1191.80" r="6.10" fill="#fff" stroke="#000" stroke-width="2.3"/>
<circle cx="875.70" cy="1253.60" r="6.10" fill="#fff" stroke="#000" stroke-width="2.3"/>
<circle cx="875.70" cy="1270.10" r="6.10" fill="#fff" stroke="#000" stroke-width="2.3"/>
<circle cx="875.70" cy="1275.50" r="6.10" fill="#fff" stroke="#000" stroke-width="2.3"/>
<circle cx="875.70" cy="1299.00" r="6.10" fill="#fff" stroke="#000" stroke-width="2.3"/>
<circle cx="875.70" cy="1313.90" r="6.10" fill="#fff" stroke="#000" stroke-width="2.3"/>
<circle cx="875.70" cy="1358.60" r="6.10" fill="#fff" stroke="#000" stroke-width="2.3"/>
<circle cx="909.20" cy="1131.30" r="6.10" fill="#fff" stroke="#000" stroke-width="2.3"/>
<circle cx="909.20" cy="1155.60" r="6.10" fill="#fff" stroke="#000" stroke-width="2.3"/>
<circle cx="909.20" cy="1187.00" r="6.10" fill="#fff" stroke="#000" stroke-width="2.3"/>
<circle cx="909.20" cy="1196.50" r="6.10" fill="#fff" stroke="#000" stroke-width="2.3"/>
<circle cx="909.20" cy="1218.30" r="6.10" fill="#fff" stroke="#000" stroke-width="2.3"/>
<circle cx="909.20" cy="1296.00" r="6.10" fill="#fff" stroke="#000" stroke-width="2.3"/>
<circle cx="965.50" cy="1218.30" r="6.10" fill="#fff" stroke="#000" stroke-width="2.3"/>
<circle cx="965.50" cy="1271.00" r="6.10" fill="#fff" stroke="#000" stroke-width="2.3"/>
<circle cx="965.50" cy="1287.00" r="6.10" fill="#fff" stroke="#000" stroke-width="2.3"/>
<circle cx="965.50" cy="1304.00" r="6.10" fill="#fff" stroke="#000" stroke-width="2.3"/>
<circle cx="965.50" cy="1321.00" r="6.10" fill="#fff" stroke="#000" stroke-width="2.3"/>
<circle cx="999.10" cy="1332.30" r="6.10" fill="#fff" stroke="#000" stroke-width="2.3"/>
<circle cx="999.10" cy="1345.20" r="6.10" fill="#fff" stroke="#000" stroke-width="2.3"/>
<circle cx="999.10" cy="1353.20" r="6.10" fill="#fff" stroke="#000" stroke-width="2.3"/>
<circle cx="999.10" cy="1366.60" r="6.10" fill="#fff" stroke="#000" stroke-width="2.3"/>
<circle cx="999.10" cy="1379.10" r="6.10" fill="#fff" stroke="#000" stroke-width="2.3"/>
<line x1="875.70" y1="1261.20" x2="875.70" y2="1300.00" stroke="#000" stroke-width="3" stroke-linecap="butt"/>
<line x1="870.45" y1="1261.20" x2="880.95" y2="1261.20" stroke="#000" stroke-width="3" stroke-linecap="butt"/>
<line x1="870.45" y1="1300.00" x2="880.95" y2="1300.00" stroke="#000" stroke-width="3" stroke-linecap="butt"/>
<line x1="909.20" y1="1180.40" x2="909.20" y2="1214.00" stroke="#000" stroke-width="3" stroke-linecap="butt"/>
<line x1="903.95" y1="1180.40" x2="914.45" y2="1180.40" stroke="#000" stroke-width="3" stroke-linecap="butt"/>
<line x1="903.95" y1="1214.00" x2="914.45" y2="1214.00" stroke="#000" stroke-width="3" stroke-linecap="butt"/>
<line x1="965.50" y1="1262.60" x2="965.50" y2="1297.80" stroke="#000" stroke-width="3" stroke-linecap="butt"/>
<line x1="960.25" y1="1262.60" x2="970.75" y2="1262.60" stroke="#000" stroke-width="3" stroke-linecap="butt"/>
<line x1="960.25" y1="1297.80" x2="970.75" y2="1297.80" stroke="#000" stroke-width="3" stroke-linecap="butt"/>
<line x1="999.10" y1="1348.00" x2="999.10" y2="1365.00" stroke="#000" stroke-width="3" stroke-linecap="butt"/>
<line x1="993.85" y1="1348.00" x2="1004.35" y2="1348.00" stroke="#000" stroke-width="3" stroke-linecap="butt"/>
<line x1="993.85" y1="1365.00" x2="1004.35" y2="1365.00" stroke="#000" stroke-width="3" stroke-linecap="butt"/>
<line x1="847.60" y1="1064.00" x2="847.60" y2="1425.10" stroke="#000" stroke-width="3" stroke-linecap="butt"/>
<line x1="839.50" y1="1423.60" x2="1028.50" y2="1423.60" stroke="#000" stroke-width="3" stroke-linecap="butt"/>
<line x1="839.50" y1="1065.50" x2="847.60" y2="1065.50" stroke="#000" stroke-width="3" stroke-linecap="butt"/>
<text x="789.16" y="1077.20" font-size="36.4" fill="#000" textLength="47.26" lengthAdjust="spacingAndGlyphs">2.5</text>
<line x1="839.50" y1="1137.20" x2="847.60" y2="1137.20" stroke="#000" stroke-width="3" stroke-linecap="butt"/>
<text x="789.06" y="1148.90" font-size="36.4" fill="#000" textLength="47.26" lengthAdjust="spacingAndGlyphs">2.0</text>
<line x1="839.50" y1="1208.90" x2="847.60" y2="1208.90" stroke="#000" stroke-width="3" stroke-linecap="butt"/>
<text x="789.16" y="1220.60" font-size="36.4" fill="#000" textLength="47.26" lengthAdjust="spacingAndGlyphs">1.5</text>
<line x1="839.50" y1="1280.60" x2="847.60" y2="1280.60" stroke="#000" stroke-width="3" stroke-linecap="butt"/>
<text x="789.06" y="1292.30" font-size="36.4" fill="#000" textLength="47.26" lengthAdjust="spacingAndGlyphs">1.0</text>
<line x1="839.50" y1="1352.30" x2="847.60" y2="1352.30" stroke="#000" stroke-width="3" stroke-linecap="butt"/>
<text x="789.16" y="1364.00" font-size="36.4" fill="#000" textLength="47.26" lengthAdjust="spacingAndGlyphs">0.5</text>
<line x1="839.50" y1="1423.60" x2="847.60" y2="1423.60" stroke="#000" stroke-width="3" stroke-linecap="butt"/>
<text x="789.06" y="1435.30" font-size="36.4" fill="#000" textLength="47.26" lengthAdjust="spacingAndGlyphs">0.0</text>
<line x1="891.80" y1="1423.60" x2="891.80" y2="1432.60" stroke="#000" stroke-width="3" stroke-linecap="butt"/>
<line x1="982.10" y1="1423.60" x2="982.10" y2="1432.60" stroke="#000" stroke-width="3" stroke-linecap="butt"/>
<line x1="875.20" y1="1095.90" x2="910.10" y2="1095.90" stroke="#000" stroke-width="3" stroke-linecap="butt"/>
<line x1="875.20" y1="1082.80" x2="875.20" y2="1109.70" stroke="#000" stroke-width="3" stroke-linecap="butt"/>
<line x1="910.10" y1="1082.80" x2="910.10" y2="1109.70" stroke="#000" stroke-width="3" stroke-linecap="butt"/>
<line x1="967.60" y1="1176.30" x2="1002.80" y2="1176.30" stroke="#000" stroke-width="3" stroke-linecap="butt"/>
<line x1="967.60" y1="1163.40" x2="967.60" y2="1190.10" stroke="#000" stroke-width="3" stroke-linecap="butt"/>
<line x1="1002.80" y1="1163.40" x2="1002.80" y2="1190.10" stroke="#000" stroke-width="3" stroke-linecap="butt"/>
<text x="880.38" y="1061.03" font-size="63" font-weight="bold">*</text>
<text x="880.38" y="1097.73" font-size="63" font-weight="bold">*</text>
<text x="972.88" y="1114.23" font-size="63" font-weight="bold">*</text>
<text x="972.88" y="1144.63" font-size="63" font-weight="bold">*</text>
<text x="972.88" y="1178.23" font-size="63" font-weight="bold">*</text>
<text x="736.16" y="1000.00" font-size="43" font-weight="bold" fill="#000" textLength="29.60" lengthAdjust="spacingAndGlyphs">H</text>
<text transform="translate(767.10,1408.90) rotate(-90)" x="-2.69" y="0" font-size="35.2" textLength="344.32" lengthAdjust="spacingAndGlyphs">Relative Arc expression</text>
<text transform="translate(900.00,1455.80) rotate(-45)" x="0" y="0" font-size="36" text-anchor="end" textLength="75.59" lengthAdjust="spacingAndGlyphs">dHIP</text>
<text transform="translate(990.30,1455.80) rotate(-45)" x="0" y="0" font-size="36" text-anchor="end" textLength="73.68" lengthAdjust="spacingAndGlyphs">vHIP</text>
<rect x="1230.35" y="1186.35" width="21.60" height="237.40" fill="#fff" stroke="#000" stroke-width="2.7"/>
<rect x="1262.00" y="1163.20" width="25.00" height="260.40" fill="#000"/>
<rect x="1319.85" y="1186.35" width="21.20" height="237.40" fill="#fff" stroke="#000" stroke-width="2.7"/>
<rect x="1352.00" y="1292.20" width="24.60" height="131.40" fill="#000"/>
<circle cx="1241.10" cy="1137.20" r="6.10" fill="#fff" stroke="#000" stroke-width="2.3"/>
<circle cx="1241.10" cy="1152.80" r="6.10" fill="#fff" stroke="#000" stroke-width="2.3"/>
<circle cx="1241.10" cy="1169.00" r="6.10" fill="#fff" stroke="#000" stroke-width="2.3"/>
<circle cx="1241.10" cy="1173.10" r="6.10" fill="#fff" stroke="#000" stroke-width="2.3"/>
<circle cx="1241.10" cy="1177.90" r="6.10" fill="#fff" stroke="#000" stroke-width="2.3"/>
<circle cx="1241.10" cy="1189.00" r="6.10" fill="#fff" stroke="#000" stroke-width="2.3"/>
<circle cx="1241.10" cy="1300.50" r="6.10" fill="#fff" stroke="#000" stroke-width="2.3"/>
<circle cx="1274.50" cy="1124.10" r="6.10" fill="#fff" stroke="#000" stroke-width="2.3"/>
<circle cx="1274.50" cy="1129.70" r="6.10" fill="#fff" stroke="#000" stroke-width="2.3"/>
<circle cx="1274.50" cy="1141.40" r="6.10" fill="#fff" stroke="#000" stroke-width="2.3"/>
<circle cx="1274.50" cy="1153.10" r="6.10" fill="#fff" stroke="#000" stroke-width="2.3"/>
<circle cx="1274.50" cy="1178.00" r="6.10" fill="#fff" stroke="#000" stroke-width="2.3"/>
<circle cx="1274.50" cy="1179.30" r="6.10" fill="#fff" stroke="#000" stroke-width="2.3"/>
<circle cx="1274.50" cy="1203.10" r="6.10" fill="#fff" stroke="#000" stroke-width="2.3"/>
<circle cx="1274.50" cy="1240.60" r="6.10" fill="#fff" stroke="#000" stroke-width="2.3"/>
<circle cx="1330.40" cy="1155.20" r="6.10" fill="#fff" stroke="#000" stroke-width="2.3"/>
<circle cx="1330.40" cy="1160.00" r="6.10" fill="#fff" stroke="#000" stroke-width="2.3"/>
<circle cx="1330.40" cy="1164.80" r="6.10" fill="#fff" stroke="#000" stroke-width="2.3"/>
<circle cx="1330.40" cy="1218.30" r="6.10" fill="#fff" stroke="#000" stroke-width="2.3"/>
<circle cx="1330.40" cy="1228.10" r="6.10" fill="#fff" stroke="#000" stroke-width="2.3"/>
<circle cx="1364.10" cy="1271.00" r="6.10" fill="#fff" stroke="#000" stroke-width="2.3"/>
<circle cx="1364.10" cy="1277.20" r="6.10" fill="#fff" stroke="#000" stroke-width="2.3"/>
<circle cx="1364.10" cy="1286.20" r="6.10" fill="#fff" stroke="#000" stroke-width="2.3"/>
<circle cx="1364.10" cy="1293.30" r="6.10" fill="#fff" stroke="#000" stroke-width="2.3"/>
<circle cx="1364.10" cy="1304.00" r="6.10" fill="#fff" stroke="#000" stroke-width="2.3"/>
<circle cx="1364.10" cy="1333.50" r="6.10" fill="#fff" stroke="#000" stroke-width="2.3"/>
<line x1="1241.10" y1="1163.40" x2="1241.10" y2="1206.60" stroke="#000" stroke-width="3" stroke-linecap="butt"/>
<line x1="1235.85" y1="1163.40" x2="1246.35" y2="1163.40" stroke="#000" stroke-width="3" stroke-linecap="butt"/>
<line x1="1235.85" y1="1206.60" x2="1246.35" y2="1206.60" stroke="#000" stroke-width="3" stroke-linecap="butt"/>
<line x1="1274.50" y1="1148.00" x2="1274.50" y2="1178.00" stroke="#000" stroke-width="3" stroke-linecap="butt"/>
<line x1="1269.25" y1="1148.00" x2="1279.75" y2="1148.00" stroke="#000" stroke-width="3" stroke-linecap="butt"/>
<line x1="1269.25" y1="1178.00" x2="1279.75" y2="1178.00" stroke="#000" stroke-width="3" stroke-linecap="butt"/>
<line x1="1330.40" y1="1169.00" x2="1330.40" y2="1201.30" stroke="#000" stroke-width="3" stroke-linecap="butt"/>
<line x1="1325.15" y1="1169.00" x2="1335.65" y2="1169.00" stroke="#000" stroke-width="3" stroke-linecap="butt"/>
<line x1="1325.15" y1="1201.30" x2="1335.65" y2="1201.30" stroke="#000" stroke-width="3" stroke-linecap="butt"/>
<line x1="1364.10" y1="1282.00" x2="1364.10" y2="1302.00" stroke="#000" stroke-width="3" stroke-linecap="butt"/>
<line x1="1358.85" y1="1282.00" x2="1369.35" y2="1282.00" stroke="#000" stroke-width="3" stroke-linecap="butt"/>
<line x1="1358.85" y1="1302.00" x2="1369.35" y2="1302.00" stroke="#000" stroke-width="3" stroke-linecap="butt"/>
<line x1="1212.40" y1="1064.50" x2="1212.40" y2="1425.10" stroke="#000" stroke-width="3" stroke-linecap="butt"/>
<line x1="1204.80" y1="1423.60" x2="1393.40" y2="1423.60" stroke="#000" stroke-width="3" stroke-linecap="butt"/>
<line x1="1204.80" y1="1066.00" x2="1212.40" y2="1066.00" stroke="#000" stroke-width="3" stroke-linecap="butt"/>
<text x="1154.16" y="1077.70" font-size="36.4" fill="#000" textLength="47.26" lengthAdjust="spacingAndGlyphs">1.5</text>
<line x1="1204.80" y1="1185.30" x2="1212.40" y2="1185.30" stroke="#000" stroke-width="3" stroke-linecap="butt"/>
<text x="1154.06" y="1197.00" font-size="36.4" fill="#000" textLength="47.26" lengthAdjust="spacingAndGlyphs">1.0</text>
<line x1="1204.80" y1="1304.60" x2="1212.40" y2="1304.60" stroke="#000" stroke-width="3" stroke-linecap="butt"/>
<text x="1154.16" y="1316.30" font-size="36.4" fill="#000" textLength="47.26" lengthAdjust="spacingAndGlyphs">0.5</text>
<line x1="1204.80" y1="1423.60" x2="1212.40" y2="1423.60" stroke="#000" stroke-width="3" stroke-linecap="butt"/>
<text x="1154.06" y="1435.30" font-size="36.4" fill="#000" textLength="47.26" lengthAdjust="spacingAndGlyphs">0.0</text>
<line x1="1257.20" y1="1423.60" x2="1257.20" y2="1432.60" stroke="#000" stroke-width="3" stroke-linecap="butt"/>
<line x1="1346.90" y1="1423.60" x2="1346.90" y2="1432.60" stroke="#000" stroke-width="3" stroke-linecap="butt"/>
<line x1="1329.70" y1="1119.70" x2="1364.40" y2="1119.70" stroke="#000" stroke-width="3" stroke-linecap="butt"/>
<line x1="1329.70" y1="1106.20" x2="1329.70" y2="1133.10" stroke="#000" stroke-width="3" stroke-linecap="butt"/>
<line x1="1364.40" y1="1106.20" x2="1364.40" y2="1133.10" stroke="#000" stroke-width="3" stroke-linecap="butt"/>
<text x="1334.98" y="1060.63" font-size="63" font-weight="bold">*</text>
<text x="1334.98" y="1092.53" font-size="63" font-weight="bold">*</text>
<text x="1334.98" y="1121.33" font-size="63" font-weight="bold">*</text>
<text x="1093.01" y="1000.00" font-size="43" font-weight="bold" fill="#000" textLength="14.08" lengthAdjust="spacingAndGlyphs">I</text>
<text transform="translate(1125.20,1408.90) rotate(-90)" x="-2.69" y="0" font-size="35.2" textLength="346.22" lengthAdjust="spacingAndGlyphs">Relative Egr expression</text>
<text transform="translate(1265.40,1455.80) rotate(-45)" x="0" y="0" font-size="36" text-anchor="end" textLength="75.59" lengthAdjust="spacingAndGlyphs">dHIP</text>
<text transform="translate(1355.10,1455.80) rotate(-45)" x="0" y="0" font-size="36" text-anchor="end" textLength="73.68" lengthAdjust="spacingAndGlyphs">vHIP</text>
<rect x="1195.85" y="348.65" width="59.80" height="29.70" fill="#fff" stroke="#000" stroke-width="3.3"/>
<rect x="1194.20" y="392.50" width="63.10" height="33.70" fill="#000"/>
<text x="1269.79" y="378.00" font-size="36" fill="#000" textLength="49.22" lengthAdjust="spacingAndGlyphs">Ctrl</text>
<text x="1272.96" y="423.50" font-size="36" fill="#000" textLength="63.93" lengthAdjust="spacingAndGlyphs">CRS</text>
</svg></body></html>
